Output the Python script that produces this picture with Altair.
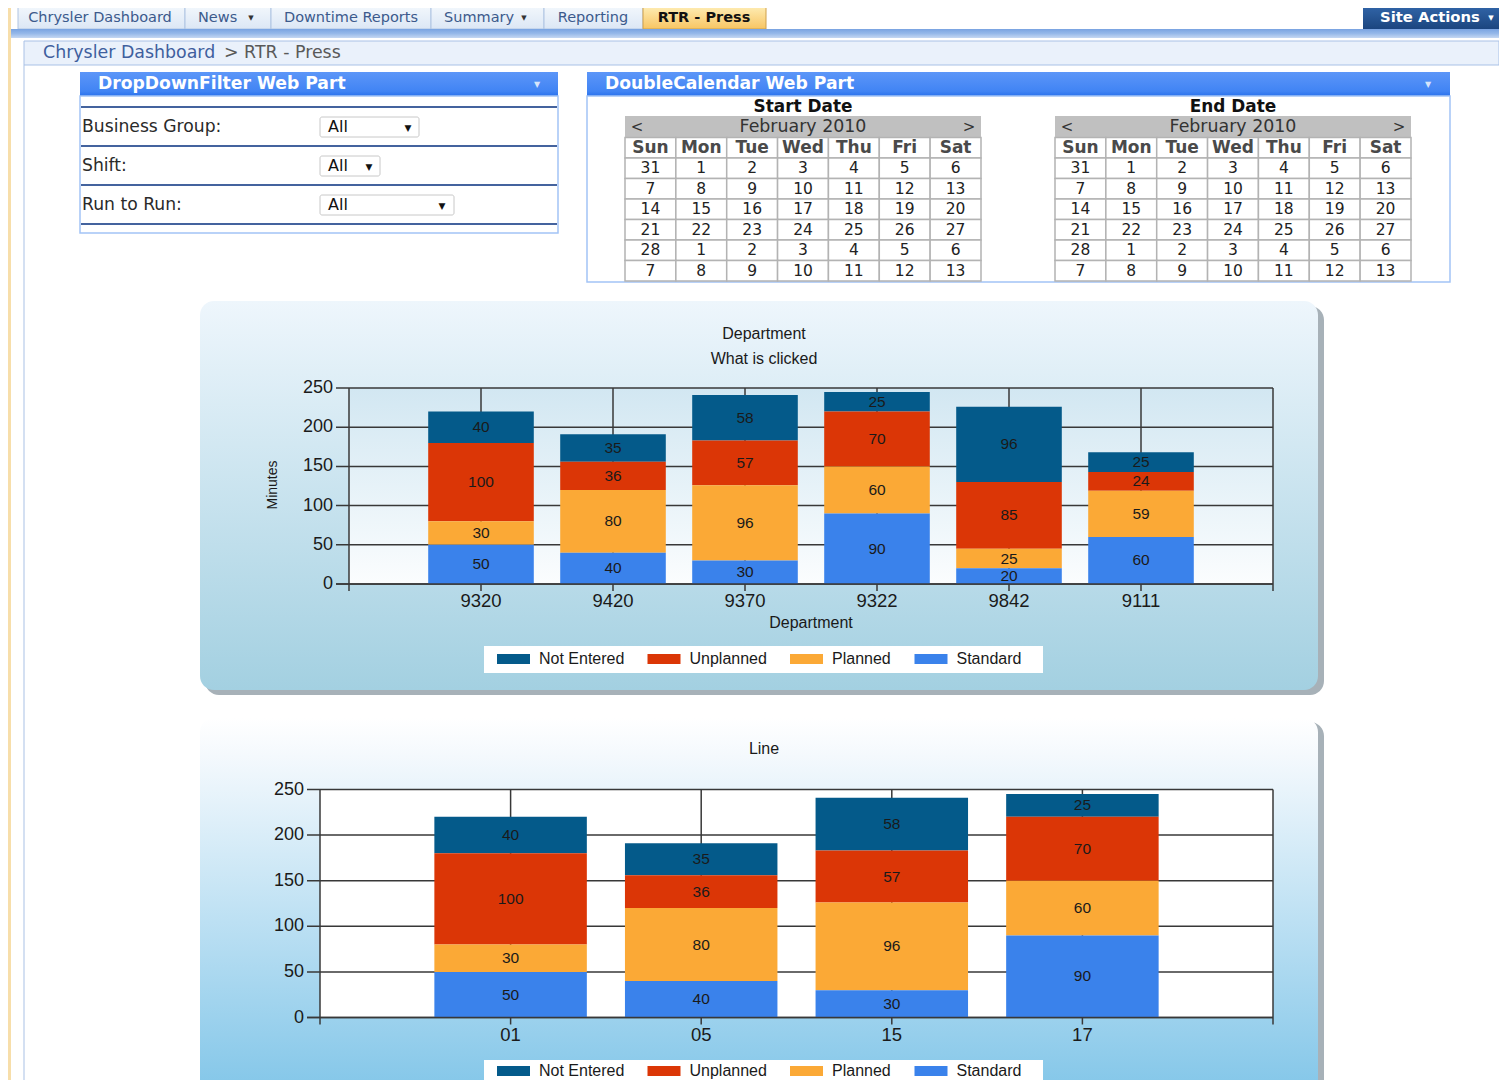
import altair as alt
import pandas as pd

# ---------------- data ----------------
series = ["Not Entered", "Unplanned", "Planned", "Standard"]
series_colors = ["#045A8A", "#DB3606", "#FBA936", "#3A82EB"]

dept_categories = ["9320", "9420", "9370", "9322", "9842", "9111"]
dept_not_entered = [40, 35, 58, 25, 96, 25]
dept_unplanned = [100, 36, 57, 70, 85, 24]
dept_planned = [30, 80, 96, 60, 25, 59]
dept_standard = [50, 40, 30, 90, 20, 60]

line_categories = ["01", "05", "15", "17"]
line_not_entered = [40, 35, 58, 25]
line_unplanned = [100, 36, 57, 70]
line_planned = [30, 80, 96, 60]
line_standard = [50, 40, 30, 90]

y_ticks = [0, 50, 100, 150, 200, 250]

chart1_titles = ["Department", "What is clicked"]
chart1_x_title = "Department"
chart1_y_title = "Minutes"
chart2_title = "Line"

weekdays = ["Sun", "Mon", "Tue", "Wed", "Thu", "Fri", "Sat"]
calendar_weeks = [
    [31, 1, 2, 3, 4, 5, 6],
    [7, 8, 9, 10, 11, 12, 13],
    [14, 15, 16, 17, 18, 19, 20],
    [21, 22, 23, 24, 25, 26, 27],
    [28, 1, 2, 3, 4, 5, 6],
    [7, 8, 9, 10, 11, 12, 13],
]
calendar_month = "February 2010"
calendar_titles = ["Start Date", "End Date"]

nav_tabs = ["Chrysler Dashboard", "News", "Downtime Reports", "Summary", "Reporting", "RTR - Press"]
breadcrumb = ["Chrysler Dashboard", "> RTR - Press"]
site_actions = "Site Actions"
web_part_titles = ["DropDownFilter Web Part", "DoubleCalendar Web Part"]
filter_labels = ["Business Group:", "Shift:", "Run to Run:"]
filter_values = ["All", "All", "All"]

# ---------------- helpers ----------------
UI = "DejaVu Sans"
CH = "Liberation Sans"
GRID = "#383838"
TXT = "#1A1A1A"
SWATCH = "M-1.65,-0.5H1.65V0.5H-1.65Z"
OFF = 8
W, H = 1491, 1072


def px(v):
    return v - OFF


py = px


def grad(*stops):
    return alt.Gradient(gradient="linear", x1=0, y1=0, x2=0, y2=1,
                        stops=[alt.GradientStop(offset=o, color=c) for o, c in stops])


def box(x1, y1, x2, y2, **kw):
    return alt.Chart().mark_rect(**kw).encode(
        x=alt.value(px(x1)), x2=alt.value(px(x2)),
        y=alt.value(py(y1)), y2=alt.value(py(y2)))


def label(x, y, s, size=13, color="#333333", weight="normal", align="left", font=UI, angle=None):
    kw = dict(text=s, fontSize=size, color=color, fontWeight=weight, align=align,
              baseline="middle", font=font)
    if angle is not None:
        kw["angle"] = angle
    return alt.Chart().mark_text(**kw).encode(x=alt.value(px(x)), y=alt.value(py(y)))


layers = []

# ---------------- page frame / navigation ----------------
layers.append(box(8, 8, 11, 1080, fill="#F7DEAA"))
tab_edges = [18, 185, 271, 431, 544, 643, 766]
for i, name in enumerate(nav_tabs):
    active = i == len(nav_tabs) - 1
    layers.append(box(tab_edges[i], 6, tab_edges[i + 1], 29,
                      fill=grad((0, "#FEEDB5"), (1, "#F8C563")) if active else grad((0, "#F2F7FC"), (1, "#DCE7F5")),
                      stroke="#CFA04A" if active else "#AFC4E2", strokeWidth=1))
tab_text = [("center", 100), ("left", 198), ("center", 351), ("left", 444), ("center", 593), ("center", 704)]
for i, name in enumerate(nav_tabs):
    al, tx = tab_text[i]
    active = i == len(nav_tabs) - 1
    layers.append(label(tx, 17.5, name, size=14.5, color="#111111" if active else "#3C5A8C",
                        weight="bold" if active else "normal", align=al))
layers.append(label(251, 18, "▼", size=7, color="#333333", align="center"))
layers.append(label(524, 18, "▼", size=7, color="#333333", align="center"))
layers.append(box(1363, 6, 1499, 29, fill=grad((0, "#3165A8"), (1, "#1B457F"))))
layers.append(label(1380, 18, site_actions, size=14.8, color="white", weight="bold"))
layers.append(label(1491, 18, "▼", size=7, color="white", align="center"))
layers.append(box(11, 29, 1499, 38, fill=grad((0, "#79A3E1"), (0.5, "#95B8E9"), (1, "#C4D7F2"))))
layers.append(box(24, 41, 1499, 65, fill="#EAF1FB", stroke="#A9C1E6", strokeWidth=1))
layers.append(box(23.5, 65, 24.5, 1080, fill="#A9C1E6"))
layers.append(label(43, 53, breadcrumb[0], size=17.4, color="#3F5F9E"))
layers.append(label(224, 53, breadcrumb[1], size=17.4, color="#595959"))

# ---------------- DropDownFilter web part ----------------
hdr_fill = grad((0, "#5C96F8"), (0.8, "#4184F4"), (1, "#2A72EC"))
layers.append(box(80, 72, 558, 96, fill=hdr_fill))
layers.append(box(80, 96, 558, 233, fill="white", stroke="#A3C4F6", strokeWidth=1.5))
for yl in [107, 146, 185, 224]:
    layers.append(box(81, yl - 1, 557, yl + 1, fill="#44639E"))
layers.append(label(98, 84, web_part_titles[0], size=17.2, color="white", weight="bold"))
layers.append(label(537, 85, "▼", size=8, color="#D6E4FB", align="center"))
for i, (lab, val, (bx2, ax)) in enumerate(zip(filter_labels, filter_values, [(419, 408), (380, 369), (454, 442)])):
    yc = 127 + 39 * i
    layers.append(box(320, yc - 10, bx2, yc + 10, fill="white", stroke="#C8C8C8", strokeWidth=1, cornerRadius=2))
    layers.append(label(82, yc, lab, size=17.2, color="#2A2A2A"))
    layers.append(label(328, yc, val, size=16, color="#111111"))
    layers.append(label(ax, yc + 1, "▼", size=9, color="#111111", align="center"))

# ---------------- DoubleCalendar web part ----------------
layers.append(box(587, 72, 1450, 96, fill=hdr_fill))
layers.append(box(587, 96, 1450, 282, fill="white", stroke="#A3C4F6", strokeWidth=1.5))
layers.append(label(605, 84, web_part_titles[1], size=17.2, color="white", weight="bold"))
layers.append(label(1428, 85, "▼", size=8, color="#D6E4FB", align="center"))

cal_rows = ["head"] + [f"w{i + 1}" for i in range(len(calendar_weeks))]
cal_df = pd.DataFrame(
    [{"day": d, "row": "head", "label": d} for d in weekdays]
    + [{"day": weekdays[j], "row": f"w{i + 1}", "label": str(v)}
       for i, wk in enumerate(calendar_weeks) for j, v in enumerate(wk)]
)


def calendar(x0, x1):
    xs = alt.Scale(type="band", domain=weekdays, range=[px(x0), px(x1)], paddingInner=0, paddingOuter=0)
    ys = alt.Scale(type="band", domain=cal_rows, range=[py(137.5), py(281)], paddingInner=0, paddingOuter=0)
    base = alt.Chart(cal_df).encode(x=alt.X("day:N", scale=xs, axis=None, sort=weekdays),
                                    y=alt.Y("row:N", scale=ys, axis=None, sort=cal_rows))
    cells = base.mark_rect(fill="white", stroke="#B3B3B3", strokeWidth=1.5)
    heads = base.transform_filter("datum.row == 'head'").mark_text(
        font=UI, fontSize=17, fontWeight="bold", color="#4A4A4A").encode(text="label:N")
    nums = base.transform_filter("datum.row != 'head'").mark_text(
        font=UI, fontSize=15.5, color="#222222").encode(text="label:N")
    return alt.layer(cells, heads, nums)


for x0, title in zip([625, 1055], calendar_titles):
    x1 = x0 + 356
    cx = (x0 + x1) / 2
    layers.append(label(cx, 107, title, size=16.9, color="#111111", weight="bold", align="center"))
    layers.append(box(x0, 116, x1, 137.5, fill="#C0C0C0"))
    layers.append(label(x0 + 12, 127, "<", size=15, color="#333333", align="center"))
    layers.append(label(cx, 127, calendar_month, size=17.4, color="#333333", align="center"))
    layers.append(label(x1 - 12, 127, ">", size=15, color="#333333", align="center"))
    layers.append(calendar(x0, x1))


# ---------------- stacked bar panels ----------------
def bar_panel(cats, ne, un, pl, st, L, R, T, B, tick_from, ylab_right, legend_cy, plot_fill):
    n = len(cats)
    cols = {"Not Entered": ne, "Unplanned": un, "Planned": pl, "Standard": st}
    rows = []
    for i, c in enumerate(cats):
        for s in series:
            rows.append({"cat": c, "pos": i + 1, "series": s,
                         "k": len(series) - 1 - series.index(s), "value": cols[s][i]})
    df = pd.DataFrame(rows)
    cats_df = pd.DataFrame({"cat": cats, "pos": list(range(1, n + 1))})
    xt_df = pd.DataFrame({"pos": list(range(0, n + 2))})
    ticks_df = pd.DataFrame({"tick": y_ticks})

    xs = alt.Scale(domain=[0, n + 1], range=[px(L), px(R)], nice=False, zero=False)
    ys = alt.Scale(domain=[0, 250], range=[py(B), py(T)], nice=False, zero=False)

    def X(f):
        return alt.X(f, scale=xs, axis=None)

    def Y(f):
        return alt.Y(f, scale=ys, axis=None, stack=None)

    frame = box(L, T, R, B, fill=plot_fill)
    grid = alt.Chart(ticks_df).mark_rule(color=GRID, strokeWidth=1.5).encode(
        y=Y("tick:Q"), x=alt.value(px(tick_from)), x2=alt.value(px(R)))
    vlines = alt.Chart(xt_df).mark_rule(color=GRID, strokeWidth=1.5).encode(
        x=X("pos:Q"), y=alt.value(py(T)), y2=alt.value(py(B + 7)))
    stacked = alt.Chart(df).transform_stack(
        stack="value", groupby=["pos"], as_=["y0", "y1"],
        sort=[alt.SortField(field="k", order="ascending")])
    bars = stacked.transform_calculate(x0="datum.pos - 0.4", x1="datum.pos + 0.4").mark_rect().encode(
        x=X("x0:Q"), x2="x1:Q", y=Y("y0:Q"), y2="y1:Q",
        color=alt.Color("series:N", scale=alt.Scale(domain=series, range=series_colors),
                        legend=alt.Legend(title=None, orient="none", legendX=px(497) + 6.5,
                                          legendY=py(legend_cy) - 10,
                                          direction="horizontal", columns=4, symbolType=SWATCH,
                                          symbolSize=400, symbolStrokeWidth=0, symbolOpacity=1,
                                          labelFont=CH, labelFontSize=16, labelColor=TXT,
                                          labelOffset=15.5, columnPadding=22.5, padding=0,
                                          labelLimit=300)))
    vals = stacked.transform_calculate(ym="(datum.y0 + datum.y1) / 2").mark_text(
        font=CH, fontSize=15.5, color=TXT, baseline="middle").encode(
        x=X("pos:Q"), y=Y("ym:Q"), text="value:Q")
    axis0 = alt.Chart(ticks_df).transform_filter("datum.tick == 0").mark_rule(
        color=GRID, strokeWidth=1.5).encode(y=Y("tick:Q"), x=alt.value(px(tick_from)), x2=alt.value(px(R)))
    ylabels = alt.Chart(ticks_df).mark_text(font=CH, fontSize=18, color=TXT, align="right",
                                            baseline="middle").encode(
        y=Y("tick:Q"), x=alt.value(px(ylab_right)), text="tick:Q")
    xlabels = alt.Chart(cats_df).mark_text(font=CH, fontSize=18.5, color=TXT, align="center",
                                           baseline="middle").encode(
        x=X("pos:Q"), y=alt.value(py(B + 17)), text="cat:N")
    return alt.layer(frame, grid, vlines, bars, vals, axis0, ylabels, xlabels)


# panel 1
layers.append(box(205, 306, 1324, 695, fill="#A7B1B8", cornerRadius=14))
layers.append(box(200, 301, 1318, 690, fill=grad((0, "#EEF6FC"), (1, "#A3D0E1")), cornerRadius=14))
layers.append(label(764, 334, chart1_titles[0], size=16, color=TXT, align="center", font=CH))
layers.append(label(764, 359, chart1_titles[1], size=16, color=TXT, align="center", font=CH))
layers.append(box(484, 646, 1043, 673, fill="white"))
layers.append(bar_panel(dept_categories, dept_not_entered, dept_unplanned, dept_planned, dept_standard,
                        L=349, R=1273, T=388, B=584, tick_from=336, ylab_right=333, legend_cy=659,
                        plot_fill=grad((0, "#D2E7F2"), (1, "#FBFDFE"))))
layers.append(label(811, 623, chart1_x_title, size=16, color=TXT, align="center", font=CH))
layers.append(label(273, 485, chart1_y_title, size=14, color=TXT, align="center", font=CH, angle=270))

# panel 2
layers.append(box(205, 722, 1324, 1100, fill="#A7B1B8", cornerRadius=14))
layers.append(box(200, 718, 1318, 1100, fill=grad((0, "#FFFFFF"), (0.1, "#F4F9FD"), (1, "#80C5E8")),
                  cornerRadius=14))
layers.append(label(764, 749, chart2_title, size=16, color=TXT, align="center", font=CH))
layers.append(box(484, 1060, 1043, 1090, fill="white"))
layers.append(bar_panel(line_categories, line_not_entered, line_unplanned, line_planned, line_standard,
                        L=320, R=1273, T=789.5, B=1017.5, tick_from=307, ylab_right=304, legend_cy=1071,
                        plot_fill="white"))

chart = alt.layer(*layers, data=alt.Data(values=[{"k": 0}])).resolve_scale(
    x="independent", y="independent", color="independent"
).properties(
    width=W, height=H, autosize=alt.AutoSizeParams(type="none"), padding=0, background="white"
).configure_view(strokeWidth=0)

chart.save("out.html", embed_options={"renderer": "svg", "actions": False})
